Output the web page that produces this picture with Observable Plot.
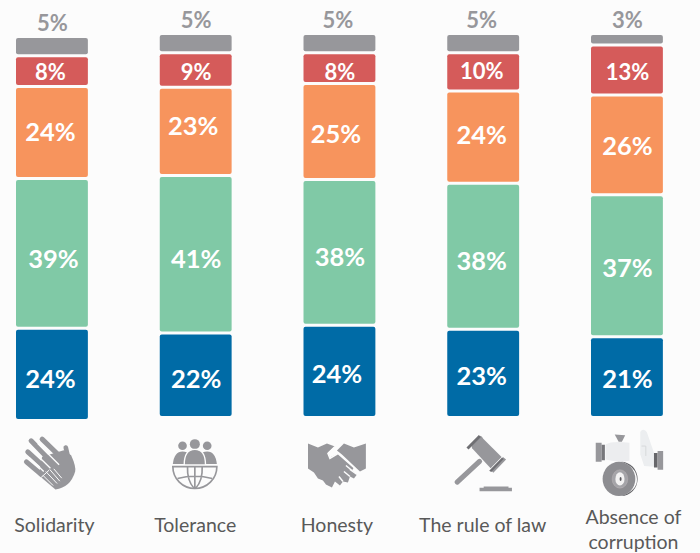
<!DOCTYPE html>
<html>
<head>
<meta charset="utf-8">
<style>
html,body{margin:0;padding:0;background:#fcfcfc;overflow:hidden}
svg{display:block}
</style>
<script src="https://cdn.jsdelivr.net/npm/d3@7"></script>
<script src="https://cdn.jsdelivr.net/npm/@observablehq/plot@0.6"></script>
</head>
<body>
<script>
const categories = ["Solidarity","Tolerance","Honesty","The rule of law","Absence of\ncorruption"];
const seriesNames = ["blue","green","orange","red","gray"];
const seriesColors = ["#006ba6","#80c9a6","#f7945d","#d55b5a","#97979b"];
const blueValues = [24,22,24,23,21];
const greenValues = [39,41,38,38,37];
const orangeValues = [24,23,25,24,26];
const redValues = [8,9,8,10,13];
const grayValues = [5,5,5,5,3];
const allValues = [blueValues,greenValues,orangeValues,redValues,grayValues];

const G = "#97979b";
const svgUri = (vb, body) => "data:image/svg+xml;utf8," + encodeURIComponent(
  `<svg xmlns="http://www.w3.org/2000/svg" viewBox="${vb}">${body}</svg>`);
const iconHand = svgUri("60 100 180 180", `
<g stroke="${G}" stroke-width="15" stroke-linecap="round" fill="none">
<path d="M125 117L190 180M92 122L160 192M82 155L140 208M78 185L125 225"/>
<path d="M196 142L206 185" stroke-width="14"/></g>
<path fill="${G}" d="M125 170L190 150L212 165Q228 200 224 215Q210 262 165 268L158 262L115 225Z"/>
<g stroke="#fcfcfc" stroke-width="3" fill="none"><path d="M122 232L146 210M136 214L170 250M148 208L178 243M160 206L184 234M128 226L158 256"/></g>
<g stroke="#fcfcfc" stroke-width="4" fill="none"><path d="M112 130L176 194M92 147L150 204M86 172L130 214"/></g>`);
const iconGlobe = svgUri("510 110 150 160", `
<g fill="${G}"><circle cx="547" cy="135" r="13"/><circle cx="584" cy="130" r="15"/><circle cx="621" cy="135" r="13"/>
<path d="M518 190Q522 152 547 152Q575 152 584 190Z"/><path d="M650 190Q646 152 621 152Q593 152 584 190Z"/></g>
<path fill="${G}" stroke="#fcfcfc" stroke-width="4" d="M552 193Q552 146 584 146Q616 146 616 193Z"/>
<g fill="none" stroke="${G}" stroke-width="5"><path d="M518 198H650A66 66 0 0 1 518 198Z"/>
<path d="M584 198V264M562 198Q560 240 582 264M606 198Q608 240 586 264M532 234Q584 220 636 234"/></g>`);
const iconShake = svgUri("0 0 58 48", `
<path fill="${G}" d="M0 3L10 7L19 3L27 6L20 12L22 17L30 13L46 27L44 30L49 34L46 38L42 36L40 42L35 41L32 45L27 41L24 47L18 44L15 40L10 38L6 32L0 28Z"/>
<path fill="${G}" d="M58 3V28L52 31L34 14L29 10L36 3L46 7Z"/>
<g fill="none" stroke="#fcfcfc" stroke-width="1.5"><path d="M27 6L20 13L22 18L30 13L47 28M44 30L38 25M49 34L42 29M42 36L36 31M35 41L31 36"/></g>`);
const iconGavel = svgUri("310 100 180 175", `
<path fill="none" stroke="${G}" stroke-width="15" stroke-linecap="round" d="M323 243L388 183"/>
<path fill="${G}" d="M362 132L392 108L398 115L368 146ZM420 208L456 170L465 177L428 216Z"/>
<path fill="#6f6f73" d="M350 142L386 106L392 112L356 148ZM416 210L453 172L458 176L422 214Z"/>
<path fill="${G}" d="M365 143L395 113L452 170L420 203Z"/>
<path fill="${G}" d="M400 256H472V260H482V270H388V260H400Z"/>`);
const iconCoin = svgUri("725 80 220 210", `
<path fill="${G}" d="M732 125H750V183H732Z"/><path fill="#77777b" d="M750 131H760V178H750Z"/>
<path fill="${G}" d="M790 100L822 102L812 122H802Z"/>
<path fill="#ecedef" d="M762 130Q782 118 835 125V180Q800 186 762 176Z"/>
<path fill="#66666a" d="M810 183A50 52 0 0 1 810 287Q860 270 858 235Q856 198 810 183Z"/>
<ellipse cx="803" cy="235" rx="50" ry="52" fill="#8d8d91"/>
<ellipse cx="806" cy="235" rx="24" ry="28" fill="#a4a4a8" stroke="#c9c1c4"/>
<ellipse cx="806" cy="235" rx="14" ry="20" fill="#f2f2f2"/><ellipse cx="808" cy="235" rx="3" ry="6" fill="#5a5a5e"/>
<path fill="#eceef0" d="M868 92Q876 78 888 92L910 155V198L880 196L868 160Z"/>
<path fill="none" stroke="#d6d8da" stroke-width="3" d="M872 135H885V165"/>
<path fill="#66666a" d="M910 156H921V200H910Z"/><path fill="${G}" d="M921 150H938V207H921Z"/>`);
const icons = [iconHand, iconGlobe, iconShake, iconGavel, iconCoin];

const rows = categories.flatMap((category, c) => {
  let base = 0;
  return seriesNames.map((series, s) => {
    const value = allValues[s][c];
    const row = {category, c, series, s, value, y1: base, y2: base + value};
    base += value;
    return row;
  });
});

// hand-read label offsets, bar by bar, series order blue..red
const labelNudge = [
  [[-2,4.6],[1,6],[-2,-0.5],[-2,1]],
  [[0,3.7],[0,4.7],[-3,-5.4],[0,2]],
  [[-3,2.6],[0,4.6],[-4,2.6],[0,4]],
  [[-2,2.7],[-2,4.8],[-2,-2.2],[-2,0]],
  [[0,2],[0,3],[0,1],[0,2]]
];
const grayNudge = [0,0,-2,-2,0];
const labelFix = [2,-1,-3,-1,6];
const iconBox = [
  {w:60,h:60,dx:-2,dy:45.5},
  {w:50,h:53,dx:-1,dy:46},
  {w:58,h:48,dx:-3,dy:46.5},
  {w:62,h:60,dx:0,dy:45},
  {w:72,h:69,dx:2,dy:44.5}
];
const catOffset = i => i === 0 ? 3 : 0;

const marks = [];
rows.forEach(r => {
  marks.push(Plot.rect([r], {
    x: "category", y1: "y1", y2: "y2",
    fill: seriesColors[r.s], rx: 2,
    insetTop: 1.5, insetBottom: 1.5,
    dy: catOffset(r.c)
  }));
  const isGray = r.series === "gray";
  const isRed = r.series === "red";
  const n = isGray ? [grayNudge[r.c], -13.5] : labelNudge[r.c][r.s];
  marks.push(Plot.text([r], {
    x: "category",
    y: isGray ? "y2" : d => (d.y1 + d.y2) / 2,
    text: d => d.value + "%",
    fill: isGray ? G : "#fff",
    fontFamily: "Lato, sans-serif",
    fontWeight: 700,
    fontSize: isGray || isRed ? 22 : 25.5,
    dx: n[0],
    dy: n[1] + catOffset(r.c)
  }));
});
categories.forEach((category, i) => {
  const b = iconBox[i];
  marks.push(Plot.image([category], {
    x: d => d, frameAnchor: "bottom",
    src: () => icons[i], width: b.w, height: b.h,
    dx: b.dx, dy: b.dy, preserveAspectRatio: "none"
  }));
  marks.push(Plot.text([category], {
    x: d => d, frameAnchor: "bottom", text: d => d,
    fill: "#595959", fontFamily: "Lato, sans-serif", fontSize: 19.5,
    lineAnchor: "middle", lineHeight: 1.28,
    dx: labelFix[i], dy: i === 4 ? 110.5 : 106
  }));
});

const chart = Plot.plot({
  width: 700, height: 553,
  marginTop: 33.5, marginBottom: 135.5, marginLeft: 0, marginRight: 0,
  style: {background: "transparent"},
  x: {domain: categories, range: [-55.875, 734.75], padding: 0.5, round: false, axis: null},
  y: {domain: [0, 100], axis: null},
  marks
});
document.body.appendChild(chart);
</script>
</body>
</html>
